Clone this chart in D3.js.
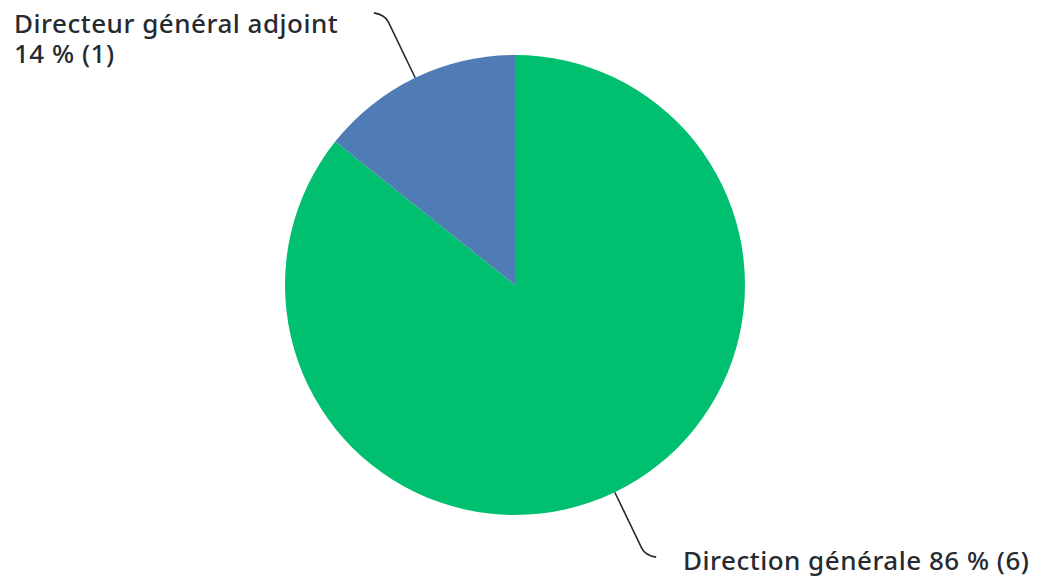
<!DOCTYPE html>
<html lang="fr">
<head>
<meta charset="UTF-8" />
<title>Répartition</title>
<style>
  body { margin: 0; background: #fff; }
  svg { display: block; }
  .label { font-family: "Noto Sans", "Open Sans", sans-serif; font-size: 26px; font-weight: 500; letter-spacing: 0.5px; fill: #262a31; }
  .leader { fill: none; stroke: #262a31; stroke-width: 1.6px; }
</style>
</head>
<body>
<svg width="1050" height="580"></svg>
<script src="https://d3js.org/d3.v7.min.js"></script>
<script>
  const categories = ["Direction générale", "Directeur général adjoint"];
  const counts = [6, 1];
  const percents = ["86 %", "14 %"];
  const colors = ["#00bf6f", "#507cb6"];

  const data = categories.map((c, i) => ({ name: c, value: counts[i], pct: percents[i], color: colors[i] }));

  const svg = d3.select("svg");
  const cx = 515, cy = 285, radius = 230;

  const pie = d3.pie().sort(null).value(d => d.value);
  const arc = d3.arc().innerRadius(0).outerRadius(radius);
  const arcs = pie(data);

  const g = svg.append("g").attr("transform", `translate(${cx},${cy})`);

  g.selectAll("path.slice")
    .data(arcs)
    .join("path")
    .attr("class", "slice")
    .attr("d", arc)
    .attr("fill", d => d.data.color);

  // leader lines: out from the middle of each slice's rim, then a small hook
  g.selectAll("path.leader")
    .data(arcs)
    .join("path")
    .attr("class", "leader")
    .attr("d", d => {
      const a = (d.startAngle + d.endAngle) / 2;
      const sx = Math.sin(a), sy = -Math.cos(a);
      const p0 = [sx * radius, sy * radius];
      const p1 = [sx * (radius + 70), sy * (radius + 70)];
      const dir = sx < 0 ? -1 : 1;
      const p2 = [p1[0] + dir * 11, p1[1] + sy * 2];
      const pb = [p1[0] - sx * 8, p1[1] - sy * 8];
      return `M ${p0} L ${pb} Q ${p1} ${p2}`;
    });

  // labels (two-line label kept in one text element)
  const topLabel = svg.append("text").attr("class", "label");
  topLabel.append("tspan").attr("x", 14).attr("y", 33).text(data[1].name);
  topLabel.append("tspan").attr("x", 14).attr("dy", 30).text(`${data[1].pct} (${data[1].value})`);

  svg.append("text").attr("class", "label").attr("x", 683).attr("y", 570)
    .text(`${data[0].name} ${data[0].pct} (${data[0].value})`);
</script>
</body>
</html>
